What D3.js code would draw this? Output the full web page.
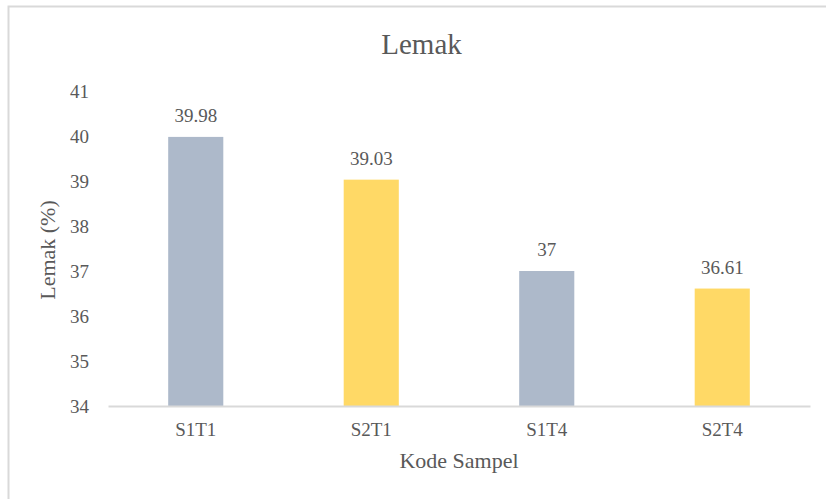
<!DOCTYPE html>
<html>
<head>
<meta charset="utf-8">
<script src="https://cdn.jsdelivr.net/npm/d3@7"></script>
<style>
  body { margin: 0; background: #fff; }
</style>
</head>
<body>
<svg id="chart" width="826" height="499"></svg>
<script>
const categories = ["S1T1", "S2T1", "S1T4", "S2T4"];
const values = [39.98, 39.03, 37, 36.61];
const barColors = ["#adb9ca", "#ffd966", "#adb9ca", "#ffd966"];
const yTicks = [34, 35, 36, 37, 38, 39, 40, 41];

const serif = "Liberation Serif";
const textColor = "#595959";

const svg = d3.select("#chart")
    .attr("font-family", serif);

// chart frame
svg.append("rect")
    .attr("x", 8.5).attr("y", 6.5)
    .attr("width", 840).attr("height", 520)
    .attr("fill", "#fff")
    .attr("stroke", "#d9d9d9")
    .attr("stroke-width", 2);

const plotLeft = 108, plotRight = 810, plotTop = 91, plotBottom = 406;

const x = d3.scaleBand()
    .domain(categories)
    .range([plotLeft, plotRight])
    .paddingInner(0.686)
    .paddingOuter(0.343);

const y = d3.scaleLinear()
    .domain([34, 41])
    .range([plotBottom, plotTop]);

// y tick labels
const yAxis = svg.append("g")
    .attr("transform", `translate(${plotLeft},0)`)
    .call(d3.axisLeft(y).tickValues(yTicks).tickSize(0).tickPadding(19).tickFormat(d3.format("d")));
yAxis.attr("font-family", serif).attr("font-size", 19);
yAxis.select(".domain").remove();
yAxis.selectAll("text")
    .style("font-family", serif)
    .style("font-size", "19px")
    .attr("fill", textColor);

// bars
svg.selectAll(".bar")
    .data(values)
    .enter().append("rect")
    .attr("class", "bar")
    .attr("x", (d, i) => x(categories[i]))
    .attr("width", x.bandwidth())
    .attr("y", d => y(d))
    .attr("height", d => y(34) - y(d))
    .attr("fill", (d, i) => barColors[i]);

// x axis
const xAxis = svg.append("g")
    .attr("transform", `translate(0,${plotBottom})`)
    .call(d3.axisBottom(x).tickSize(0).tickPadding(17));
xAxis.attr("font-family", serif).attr("font-size", 19);
xAxis.select(".domain")
    .attr("stroke", "#d9d9d9")
    .attr("stroke-width", 2);
xAxis.selectAll("text")
    .style("font-family", serif)
    .style("font-size", "19px")
    .attr("fill", textColor);

// data labels
svg.selectAll(".label")
    .data(values)
    .enter().append("text")
    .attr("class", "label")
    .attr("x", (d, i) => x(categories[i]) + x.bandwidth() / 2)
    .attr("y", d => y(d) - 15)
    .attr("text-anchor", "middle")
    .attr("fill", textColor)
    .style("font-family", serif)
    .style("font-size", "19px")
    .text(d => d);

// title
svg.append("text")
    .attr("x", 421.5).attr("y", 54)
    .attr("text-anchor", "middle")
    .attr("fill", textColor)
    .style("font-family", serif)
    .style("font-size", "29px")
    .text("Lemak");

// axis titles
svg.append("text")
    .attr("x", 459).attr("y", 468)
    .attr("text-anchor", "middle")
    .attr("fill", textColor)
    .style("font-family", serif)
    .style("font-size", "22px")
    .text("Kode Sampel");

svg.append("text")
    .attr("transform", "translate(55,250) rotate(-90)")
    .attr("text-anchor", "middle")
    .attr("fill", textColor)
    .style("font-family", serif)
    .style("font-size", "22px")
    .text("Lemak (%)");
</script>
</body>
</html>
